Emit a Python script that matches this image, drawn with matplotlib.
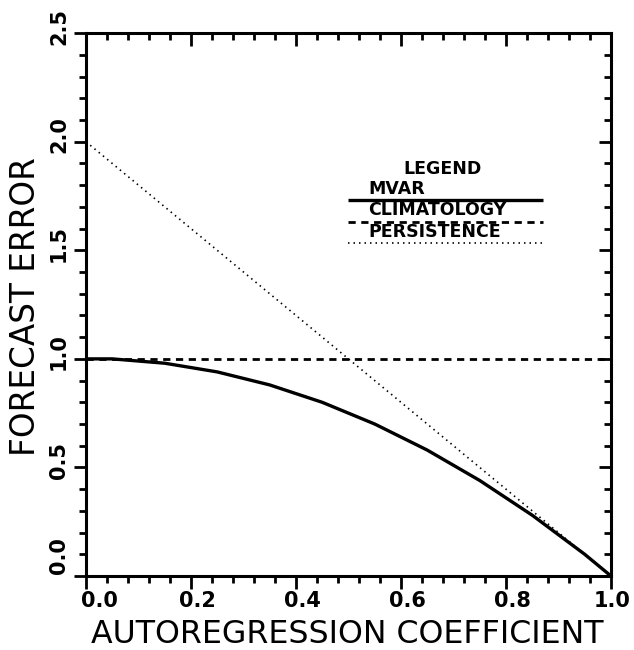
import matplotlib
matplotlib.use("Agg")
import matplotlib.pyplot as plt
from matplotlib.transforms import offset_copy

# Forecast error versus autoregression coefficient
coef = [0.00, 0.05, 0.10, 0.15, 0.20, 0.25, 0.30, 0.35, 0.40, 0.45, 0.50,
        0.55, 0.60, 0.65, 0.70, 0.75, 0.80, 0.85, 0.90, 0.95, 1.00]
mvar = [1.00, 1.00, 0.99, 0.98, 0.96, 0.94, 0.91, 0.88, 0.84, 0.80, 0.75,
        0.70, 0.64, 0.58, 0.51, 0.44, 0.36, 0.28, 0.19, 0.10, 0.00]
clim_x = [0.0, 1.0]
climatology = [1.00, 1.00]
pers_x = [0.0, 1.0]
persistence = [2.00, 0.00]

xticks = [0.0, 0.2, 0.4, 0.6, 0.8, 1.0]
xtick_labels = ["0.0", "0.2", "0.4", "0.6", "0.8", "1.0"]
yticks = [0.0, 0.5, 1.0, 1.5, 2.0, 2.5]
ytick_labels = ["0.0", "0.5", "1.0", "1.5", "2.0", "2.5"]

legend_title = "LEGEND"
legend_names = ["MVAR", "CLIMATOLOGY", "PERSISTENCE"]

fig = plt.figure(figsize=(6.34, 6.50), dpi=100)
ax = fig.add_axes([0.1356, 0.1138, 0.9637 - 0.1356, 0.949 - 0.1138])
ax.set_xlim(0.0, 1.0)
ax.set_ylim(0.0, 2.5)

solid = dict(color="black", lw=2.4, ls="-", solid_capstyle="butt", solid_joinstyle="round")
dashed = dict(color="black", lw=2.0, ls=(0, (2.6, 2.0)))
dotted = dict(color="black", lw=1.2, ls=(0, (0.9, 2.4)))

ax.plot(coef, mvar, **solid)
ax.plot(clim_x, climatology, **dashed)
ax.plot(pers_x, persistence, **dotted)

# spines and ticks: every tick points down / left
for s in ax.spines.values():
    s.set_linewidth(2.2)
ax.set_xticks(xticks)
ax.set_yticks(yticks)
ax.set_xticks([i * 0.04 for i in range(26)], minor=True)
ax.set_yticks([i * 0.1 for i in range(26)], minor=True)
ax.tick_params(which="both", direction="out", width=2.0, labelbottom=False, labelleft=False)
ax.tick_params(which="major", length=9)
ax.tick_params(which="minor", length=5)

top = ax.secondary_xaxis("top")
top.set_xticks(xticks)
top.set_xticks([i * 0.04 for i in range(26)], minor=True)
top.tick_params(which="both", direction="in", width=2.0, labeltop=False)
top.tick_params(which="major", length=9)
top.tick_params(which="minor", length=5)

right = ax.secondary_yaxis("right")
right.set_yticks(yticks)
right.set_yticks([i * 0.1 for i in range(26)], minor=True)
right.tick_params(which="both", direction="in", width=2.0, labelright=False)
right.tick_params(which="major", length=9)
right.tick_params(which="minor", length=5)

tick_font = dict(family="DejaVu Sans", weight="bold", fontsize=15)
xb = ax.get_xaxis_transform()
for v, lab in zip(xticks, xtick_labels):
    if v == 0.0:
        dx = 13
    elif v == 1.0:
        dx = 1
    else:
        dx = 6
    ax.text(v, 0, lab, transform=offset_copy(xb, fig=fig, x=dx, y=-15, units="dots"),
            ha="center", va="top", **tick_font)
yb = ax.get_yaxis_transform()
for v, lab in zip(yticks, ytick_labels):
    dy = 20 if v == 0.0 else 7
    ax.text(0, v, lab, transform=offset_copy(yb, fig=fig, x=-17, y=dy, units="dots"),
            ha="right", va="center", rotation=90, **tick_font)

fig.text(0.548, 0.024, "AUTOREGRESSION COEFFICIENT", ha="center", va="center",
         family="DejaVu Sans", fontsize=22.8)
fig.text(0.040, 0.529, "FORECAST ERROR", ha="center", va="center", rotation=90,
         family="DejaVu Sans", fontsize=23.5)

# legend block
leg_font = dict(family="DejaVu Sans", weight="bold", fontsize=12.5)
ax.text(0.68, 1.875, legend_title, ha="center", va="center", **leg_font)
styles = [solid, dashed, dotted]
line_y = [1.731, 1.630, 1.533]
for name, st, ly in zip(legend_names, styles, line_y):
    ax.plot([0.499, 0.870], [ly, ly], **st)
    ax.text(0.537, ly + 0.012, name, ha="left", va="bottom", **leg_font)

fig.savefig("out.png", dpi=100, facecolor="white")
